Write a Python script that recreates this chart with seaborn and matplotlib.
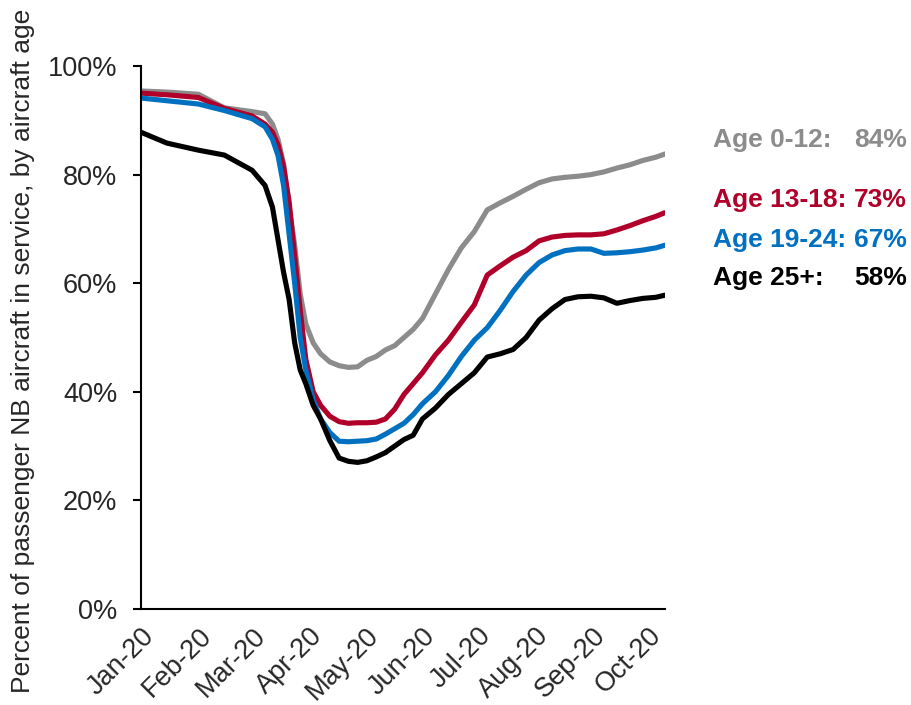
import numpy as np
import pandas as pd
import matplotlib
matplotlib.use("Agg")
import matplotlib.pyplot as plt
import matplotlib.dates as mdates
from matplotlib.ticker import PercentFormatter
import seaborn as sns

# ---- data (percent of NB fleet in service) ----
dates = [
    "2020-01-01", "2020-01-15", "2020-02-01", "2020-02-15", "2020-03-01",
    "2020-03-08", "2020-03-12", "2020-03-15", "2020-03-18", "2020-03-21",
    "2020-03-24", "2020-03-27", "2020-03-30", "2020-04-03", "2020-04-07",
    "2020-04-12", "2020-04-17", "2020-04-22", "2020-04-27", "2020-05-02",
    "2020-05-07", "2020-05-12", "2020-05-17", "2020-05-22", "2020-05-27",
    "2020-06-01", "2020-06-08", "2020-06-15", "2020-06-22", "2020-06-29",
    "2020-07-06", "2020-07-13", "2020-07-20", "2020-07-27", "2020-08-03",
    "2020-08-10", "2020-08-17", "2020-08-24", "2020-08-31", "2020-09-07",
    "2020-09-14", "2020-09-21", "2020-09-28", "2020-10-05", "2020-10-10",
]
age_0_12 = [
    95.4, 95.2, 94.8, 92.3, 91.6, 91.2, 89.3, 86.5, 82.0, 74.0,
    67.0, 58.0, 52.5, 49.0, 47.0, 45.5, 44.8, 44.5, 44.6, 45.8,
    46.5, 47.7, 48.5, 50.0, 51.5, 53.5, 58.0, 62.5, 66.5, 69.5,
    73.5, 74.8, 76.0, 77.3, 78.5, 79.2, 79.5, 79.7, 80.0, 80.5,
    81.2, 81.8, 82.6, 83.2, 83.8,
]
age_13_18 = [
    95.0, 94.7, 94.2, 92.2, 90.8, 89.3, 87.8, 85.5, 81.5, 75.0,
    65.0, 55.0, 46.0, 40.0, 37.5, 35.5, 34.5, 34.2, 34.3, 34.3,
    34.4, 35.0, 36.8, 39.5, 41.5, 43.5, 46.8, 49.5, 52.8, 56.0,
    61.5, 63.2, 64.8, 66.0, 67.8, 68.5, 68.8, 68.9, 68.9, 69.1,
    69.8, 70.6, 71.5, 72.3, 73.0,
]
age_19_24 = [
    94.1, 93.6, 93.0, 91.8, 90.3, 88.8, 86.5, 83.5, 78.0, 69.0,
    60.0, 50.0, 44.0, 38.5, 35.0, 32.5, 30.9, 30.8, 30.9, 31.0,
    31.3, 32.2, 33.2, 34.2, 35.8, 37.8, 40.0, 43.0, 46.5, 49.5,
    51.8, 55.0, 58.5, 61.5, 63.8, 65.2, 66.0, 66.3, 66.3, 65.5,
    65.6, 65.8, 66.1, 66.5, 67.0,
]
age_25_plus = [
    87.8, 85.8, 84.5, 83.6, 80.8, 78.0, 74.0, 68.0, 62.0, 57.0,
    49.0, 44.0, 41.5, 37.5, 35.0, 31.0, 27.8, 27.2, 27.0, 27.3,
    28.0, 28.8, 30.0, 31.2, 32.0, 35.0, 37.0, 39.5, 41.5, 43.5,
    46.4, 47.0, 47.8, 50.0, 53.2, 55.3, 57.0, 57.5, 57.6, 57.3,
    56.3, 56.8, 57.2, 57.4, 57.8,
]

groups = ["Age 0-12", "Age 13-18", "Age 19-24", "Age 25+"]
end_labels = ["84%", "73%", "67%", "58%"]
colors = ["#8c8c8c", "#b0002a", "#0070c0", "#000000"]

df = pd.DataFrame({
    "date": pd.to_datetime(dates),
    "Age 0-12": age_0_12,
    "Age 13-18": age_13_18,
    "Age 19-24": age_19_24,
    "Age 25+": age_25_plus,
})
long_df = df.melt(id_vars="date", var_name="group", value_name="share")

# ---- styling ----
sns.set_style("white")
plt.rcParams["font.family"] = ["Liberation Sans", "DejaVu Sans"]

fig = plt.figure(figsize=(9.11, 7.05), dpi=100)
ax = fig.add_axes([141 / 911, 96 / 705, 524 / 911, 543 / 705])

sns.lineplot(data=long_df, x="date", y="share", hue="group",
             hue_order=groups, palette=colors, linewidth=3.7,
             legend=False, ax=ax)

ax.set_ylim(0, 100)
ax.set_yticks(np.arange(0, 101, 20))
ax.yaxis.set_major_formatter(PercentFormatter(100, decimals=0))
ax.set_xlim(pd.Timestamp("2020-01-01"), pd.Timestamp("2020-10-10"))
ax.xaxis.set_major_locator(mdates.MonthLocator())
ax.xaxis.set_major_formatter(mdates.DateFormatter("%b-%y"))

ax.tick_params(axis="y", direction="out", length=6, width=1.5,
               color="black", labelsize=19.5, pad=11, left=True)
ax.tick_params(axis="x", length=0, labelsize=19.5, pad=10)
for lbl in ax.get_xticklabels():
    lbl.set_rotation(45)
    lbl.set_ha("right")
    lbl.set_rotation_mode("anchor")

for side in ["top", "right"]:
    ax.spines[side].set_visible(False)
for side in ["left", "bottom"]:
    ax.spines[side].set_color("black")
    ax.spines[side].set_linewidth(1.5)

ax.set_xlabel("")
ax.set_ylabel("Percent of passenger NB aircraft in service, by aircraft age",
              fontsize=19, labelpad=9)
ax.yaxis.label.set_y(0.475)

# right-hand labels
label_y = [140, 200, 240, 278]
for name, val, col, yy in zip(groups, end_labels, colors, label_y):
    fig.text(713 / 911, 1 - yy / 705, name + ":", color=col, fontsize=19,
             fontweight="bold", ha="left", va="center")
    fig.text(907 / 911, 1 - yy / 705, val, color=col, fontsize=19,
             fontweight="bold", ha="right", va="center")

fig.savefig("out.png", dpi=100)
